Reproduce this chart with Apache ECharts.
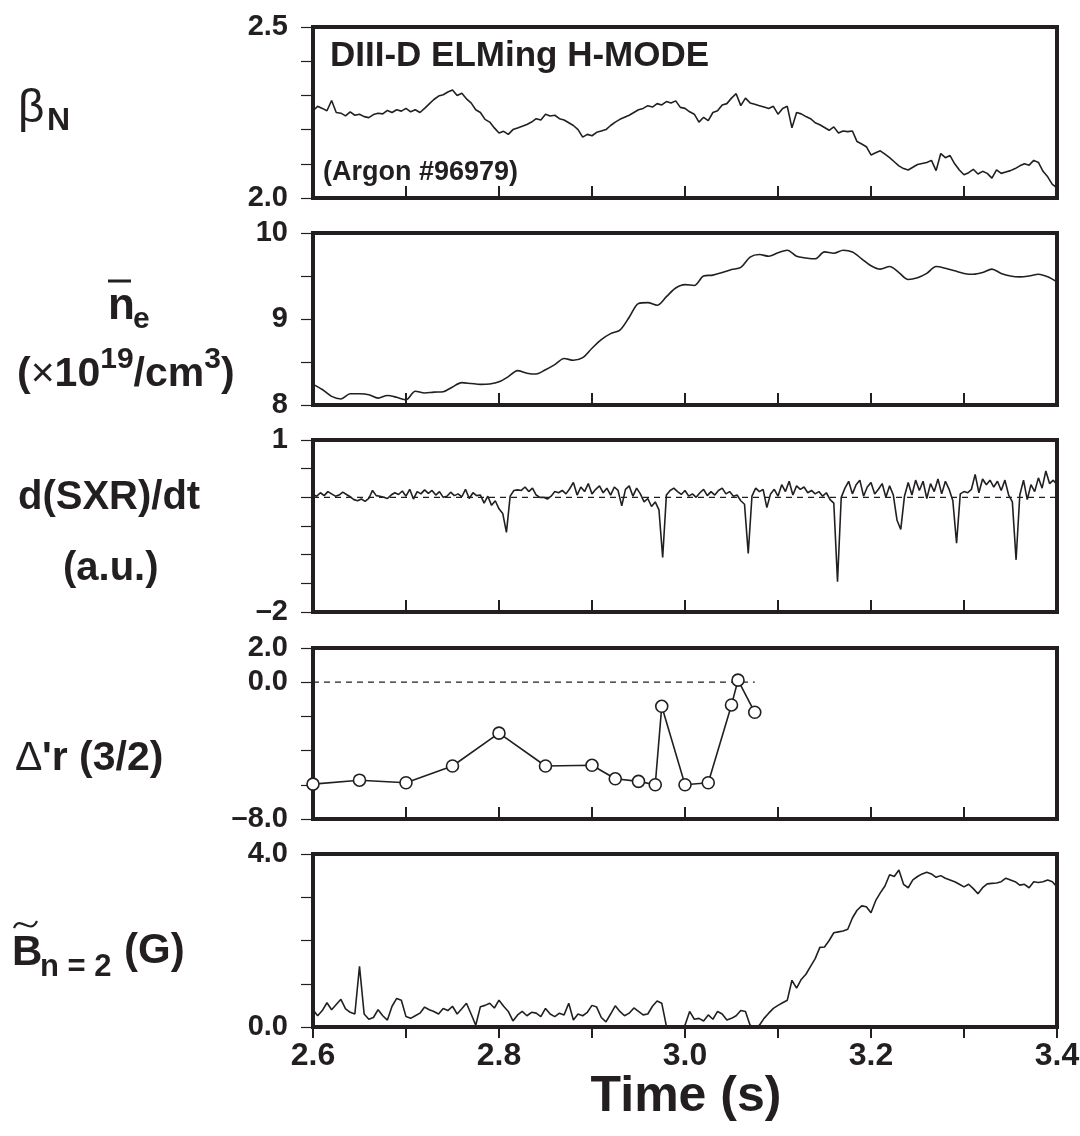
<!DOCTYPE html>
<html>
<head>
<meta charset="utf-8">
<script src="https://cdn.jsdelivr.net/npm/echarts@6/dist/echarts.min.js"></script>
<style>
  html, body { margin: 0; padding: 0; background: #fff; }
  #chart { width: 1080px; height: 1136px; }
</style>
</head>
<body>
<div id="chart"></div>
<script>
// ---- data ----
// beta_N, sampled every 5 ms from 2.600 s
const betaStart = 2.6, betaStep = 0.005;
const betaVals = [
  2.255,2.268,2.262,2.255,2.285,2.250,2.248,2.240,2.252,2.242,
  2.245,2.238,2.235,2.244,2.248,2.246,2.256,2.250,2.258,2.254,
  2.262,2.252,2.258,2.250,2.262,2.275,2.288,2.298,2.302,2.310,
  2.316,2.300,2.306,2.290,2.278,2.258,2.250,2.230,2.222,2.205,
  2.190,2.195,2.186,2.200,2.205,2.210,2.215,2.222,2.232,2.228,
  2.245,2.240,2.242,2.232,2.228,2.220,2.212,2.200,2.178,2.186,
  2.182,2.192,2.196,2.200,2.212,2.222,2.230,2.236,2.242,2.250,
  2.258,2.262,2.270,2.266,2.276,2.272,2.282,2.278,2.284,2.265,
  2.262,2.252,2.245,2.222,2.236,2.226,2.250,2.255,2.272,2.276,
  2.292,2.305,2.270,2.292,2.278,2.274,2.270,2.266,2.262,2.268,
  2.245,2.262,2.268,2.205,2.250,2.246,2.238,2.232,2.220,2.214,
  2.206,2.198,2.208,2.190,2.196,2.194,2.196,2.165,2.158,2.150,
  2.126,2.132,2.138,2.128,2.118,2.106,2.094,2.086,2.082,2.090,
  2.098,2.101,2.104,2.110,2.080,2.130,2.118,2.124,2.100,2.082,
  2.068,2.074,2.084,2.070,2.078,2.072,2.058,2.082,2.072,2.076,
  2.080,2.086,2.094,2.100,2.096,2.110,2.104,2.078,2.062,2.040,
  2.030
];

// line-averaged density (1e19 /cm3), every 10 ms
const neStart = 2.6, neStep = 0.01;
const neVals = [
  8.24,8.18,8.10,8.07,8.13,8.13,8.12,8.08,8.11,8.09,
  8.06,8.16,8.14,8.15,8.155,8.21,8.26,8.25,8.24,8.245,
  8.27,8.33,8.40,8.37,8.36,8.41,8.47,8.54,8.52,8.55,
  8.66,8.76,8.83,8.87,9.02,9.18,9.19,9.16,9.26,9.36,
  9.40,9.39,9.50,9.51,9.54,9.575,9.60,9.72,9.75,9.73,
  9.77,9.80,9.73,9.71,9.70,9.78,9.765,9.80,9.78,9.70,
  9.62,9.58,9.61,9.54,9.46,9.48,9.53,9.61,9.59,9.56,
  9.53,9.52,9.54,9.58,9.53,9.50,9.49,9.50,9.52,9.49,
  9.43
];

// d(SXR)/dt (a.u.), every 4 ms
const sxrStart = 2.6, sxrStep = 0.004;
const sxrVals = [
  0.05,0.02,0.08,0.03,0.10,0.06,0.02,0.04,0.09,0.05,
  0.01,-0.04,-0.06,-0.03,-0.07,-0.02,0.12,0.03,0.02,0.00,
  -0.02,0.04,0.08,0.05,0.11,0.02,0.14,-0.03,0.10,0.06,
  0.13,0.07,0.12,0.04,0.10,0.00,0.02,0.09,0.03,0.06,
  0.01,0.14,-0.02,0.08,0.03,
  0.04,-0.10,0.02,-0.14,-0.06,-0.20,-0.28,
  -0.61,
  0.02,
  0.12,0.13,0.12,0.18,0.10,0.16,0.04,
  0.00,0.00,-0.03,0.02,0.10,0.08,
  0.12,0.06,0.15,0.26,0.04,0.18,0.10,0.24,0.06,0.14,0.20,0.08,0.16,0.04,
  0.18,0.12,-0.15,0.14,0.20,0.02,0.16,0.06,-0.08,-0.02,-0.16,-0.08,-0.22,
  -1.05,
  0.04,0.12,0.16,
  0.10,0.05,0.12,0.02,0.06,0.00,0.08,0.14,0.03,0.10,0.04,0.12,0.16,0.06,
  0.10,0.02,0.04,-0.06,-0.12,
  -0.98,
  0.02,0.16,0.10,0.14,
  -0.18,
  0.06,0.14,0.02,0.22,0.10,0.28,0.04,0.20,0.14,0.18,0.08,0.12,0.06,0.10,
  0.02,0.08,-0.04,-0.10,
  -1.47,
  0.00,0.16,
  0.28,0.06,0.22,0.30,0.02,0.18,0.26,0.06,0.14,0.24,0.00,0.20,0.04,
  -0.40,-0.56,
  0.02,
  0.26,0.04,0.30,0.12,0.28,-0.02,0.24,0.10,0.32,0.06,0.28,0.14,-0.06,
  -0.80,
  0.06,0.10,
  0.08,0.14,0.40,0.08,0.32,0.22,0.30,0.18,0.28,0.12,0.30,0.04,-0.08,
  -1.09,
  0.04,
  0.30,-0.04,0.22,0.10,0.34,0.16,0.46,0.24,0.30,0.22
];

// Delta'r (3/2) points
const deltaT = [2.6,2.65,2.7,2.75,2.8,2.85,2.9,2.925,2.95,2.968,2.975,3.0,3.025,3.05,3.057,3.075];
const deltaV = [-5.96,-5.73,-5.88,-4.90,-2.98,-4.90,-4.86,-5.65,-5.80,-6.0,-1.41,-6.0,-5.88,-1.33,0.12,-1.76];
const deltaZeroEnd = 3.075;

// B n=2 (G), every 5 ms
const bStart = 2.6, bStep = 0.005;
const bVals = [
  0.40,0.26,0.38,0.56,0.40,0.52,0.64,0.42,0.34,0.30,
  1.40,0.30,0.18,0.22,0.40,0.26,0.16,0.48,0.66,0.62,
  0.24,0.20,0.26,0.32,0.46,0.40,0.36,0.30,0.43,0.38,
  0.48,0.30,0.42,0.55,0.30,0.04,0.47,0.50,0.55,0.44,
  0.62,0.48,0.36,0.14,0.28,0.36,0.26,0.34,0.32,0.24,
  0.43,0.30,0.24,0.32,0.28,0.55,0.16,0.30,0.26,0.34,
  0.50,0.46,0.22,0.12,0.30,0.49,0.36,0.26,0.32,0.44,
  0.36,0.28,0.30,0.48,0.60,0.55,0.02,0.00,0.02,0.00,
  0.04,0.36,0.18,0.20,0.14,0.28,0.18,0.36,0.30,0.16,
  0.20,0.26,0.38,0.36,0.04,0.00,0.04,0.20,0.32,0.43,
  0.50,0.56,0.62,1.08,0.90,1.10,1.22,1.40,1.58,1.84,
  1.85,2.00,2.18,2.20,2.22,2.26,2.52,2.70,2.80,2.78,
  2.64,2.92,3.10,3.26,3.52,3.48,3.63,3.30,3.22,3.40,
  3.48,3.54,3.58,3.54,3.46,3.50,3.44,3.40,3.36,3.30,
  3.24,3.30,3.20,3.08,3.22,3.31,3.32,3.33,3.36,3.44,
  3.40,3.36,3.28,3.30,3.22,3.36,3.34,3.36,3.40,3.36,
  3.24
];

// tick labels
const xTickLabels = [[2.6,'2.6'],[2.8,'2.8'],[3.0,'3.0'],[3.2,'3.2'],[3.4,'3.4']];
const betaTickLabels = [[2.0,'2.0'],[2.5,'2.5']];
const neTickLabels = [[8,'8'],[9,'9'],[10,'10']];
const sxrTickLabels = [[-2,'\u20132'],[1,'1']];
const deltaTickLabels = [[-8,'\u20138.0'],[0,'0.0'],[2,'2.0']];
const bTickLabels = [[0,'0.0'],[4,'4.0']];

// ---- chart ----
const INK = '#231f20';
const FONT = "'Liberation Sans', Arial, sans-serif";

function sampled(start, step, vals) {
  return vals.map((v, i) => [+(start + i * step).toFixed(4), v]);
}
function pick(labels) {
  return function (v) {
    const hit = labels.find(l => Math.abs(l[0] - v) < 1e-6);
    return hit ? hit[1] : '';
  };
}

// panel layout: top, height, yMin, yMax, yInterval, labels
const panels = [
  { top: 27,  height: 171, min: 2.0, max: 2.5, interval: 0.1, labels: betaTickLabels },
  { top: 233, height: 172, min: 8,   max: 10,  interval: 0.5, labels: neTickLabels },
  { top: 440, height: 172, min: -2,  max: 1,   interval: 0.5, labels: sxrTickLabels },
  { top: 648, height: 171, min: -8,  max: 2,   interval: 2,   labels: deltaTickLabels },
  { top: 854, height: 173, min: 0,   max: 4,   interval: 1,   labels: bTickLabels }
];

const grids = [], xAxes = [], yAxes = [];
panels.forEach((p, i) => {
  const last = i === panels.length - 1;
  grids.push({
    left: 313, width: 744, top: p.top, height: p.height,
    show: true, borderColor: INK, borderWidth: 4, backgroundColor: 'transparent',
    containLabel: false, outerBoundsMode: 'none'
  });
  xAxes.push({
    type: 'value', gridIndex: i, min: 2.6, max: 3.4, interval: 0.1,
    position: 'bottom',
    axisLine: { show: false, onZero: false },
    splitLine: { show: false },
    axisTick: { show: true, inside: !last, length: last ? 11 : 12, lineStyle: { color: INK, width: 2 } },
    axisLabel: {
      show: last, margin: 13, color: INK, fontFamily: FONT, fontWeight: 'bold', fontSize: 32,
      formatter: pick(xTickLabels)
    }
  });
  yAxes.push({
    type: 'value', gridIndex: i, min: p.min, max: p.max, interval: p.interval,
    position: 'left',
    axisLine: { show: false, onZero: false },
    splitLine: { show: false },
    axisTick: { show: true, inside: false, length: 12, lineStyle: { color: INK, width: 1.2 } },
    axisLabel: {
      margin: 25, color: INK, fontFamily: FONT, fontWeight: 'bold', fontSize: 29,
      formatter: pick(p.labels)
    }
  });
});

function trace(idx, data, extra) {
  return Object.assign({
    type: 'line', xAxisIndex: idx, yAxisIndex: idx, data: data,
    showSymbol: false, symbol: 'none', silent: true,
    lineStyle: { color: INK, width: 1.6 }, z: 3
  }, extra || {});
}

const dashStyle = { color: INK, width: 1.3, type: [6, 5] };

const series = [
  trace(0, sampled(betaStart, betaStep, betaVals)),
  trace(1, sampled(neStart, neStep, neVals), { smooth: 0.3 }),
  trace(2, [[2.6, 0], [3.4, 0]], { lineStyle: dashStyle, z: 2 }),
  trace(2, sampled(sxrStart, sxrStep, sxrVals)),
  trace(3, [[2.6, 0], [deltaZeroEnd, 0]], { lineStyle: dashStyle, z: 2 }),
  trace(3, deltaT.map((t, i) => [t, deltaV[i]]), {
    showSymbol: true, symbol: 'circle', symbolSize: 12,
    itemStyle: { color: '#fff', borderColor: INK, borderWidth: 1.6 }
  }),
  trace(4, sampled(bStart, bStep, bVals))
];

function txt(x, y, text, size, weight, extra) {
  return {
    type: 'text', x: x, y: y, silent: true,
    style: Object.assign({
      text: text, fill: INK, font: (weight || 'bold') + ' ' + size + 'px ' + FONT,
      align: 'left', verticalAlign: 'middle'
    }, extra || {})
  };
}

const graphic = [
  txt(330, 56, 'DIII-D ELMing H-MODE', 35),
  txt(323, 173, '(Argon #96979)', 27),
  // beta_N
  txt(18, 109, '\u03b2', 46, 'normal'),
  txt(47, 121, 'N', 32),
  // n_e bar
  txt(108, 307, 'n', 44),
  txt(133, 320, 'e', 30),
  { type: 'line', silent: true, shape: { x1: 108, y1: 281, x2: 131, y2: 281 }, style: { stroke: INK, lineWidth: 3 } },
  {
    type: 'text', x: 17, y: 370, silent: true,
    style: {
      text: '{m|(}{x|\u00d7}{m|10}{s|19}{m|/cm}{s|3}{m|)}',
      fill: INK, align: 'left', verticalAlign: 'middle',
      rich: {
        m: { font: 'bold 41px ' + FONT, fill: INK, lineHeight: 50, verticalAlign: 'bottom' },
        x: { font: 'normal 41px ' + FONT, fill: INK, lineHeight: 50, verticalAlign: 'bottom' },
        s: { font: 'bold 30px ' + FONT, fill: INK, lineHeight: 30, verticalAlign: 'top' }
      }
    }
  },
  // d(SXR)/dt
  txt(18, 498, 'd(SXR)/dt', 40),
  txt(63, 569, '(a.u.)', 40),
  // Delta'r
  txt(15, 759, '\u0394', 41, 'normal'),
  txt(42, 759, "'r (3/2)", 41),
  // B~ n=2
  txt(12, 953, 'B', 42),
  {
    type: 'bezierCurve', silent: true,
    shape: { x1: 14, y1: 928, cpx1: 20, cpy1: 914, cpx2: 30, cpy2: 936, x2: 37, y2: 921 },
    style: { stroke: INK, lineWidth: 2.2, fill: null }
  },
  txt(40, 967, 'n = 2', 31),
  txt(124, 951, '(G)', 42),
  // x axis title
  txt(686, 1097, 'Time (s)', 50, 'bold', { align: 'center' })
];

const chart = echarts.init(document.getElementById('chart'), null, { renderer: 'canvas', width: 1080, height: 1136 });
chart.setOption({
  animation: false,
  backgroundColor: '#fff',
  grid: grids,
  xAxis: xAxes,
  yAxis: yAxes,
  series: series,
  graphic: graphic
});
</script>
</body>
</html>
